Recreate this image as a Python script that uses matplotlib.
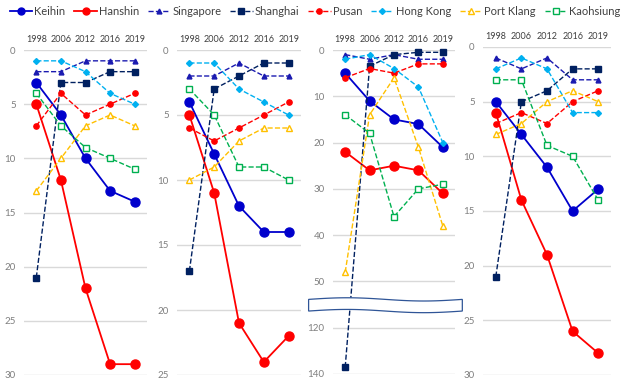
import numpy as np
import matplotlib.pyplot as plt
from matplotlib.lines import Line2D
from matplotlib.patches import Polygon

plt.rcParams['font.family'] = ['Lato', 'DejaVu Sans']

years = ["1998", "2006", "2012", "2016", "2019"]
ports = ["Keihin", "Hanshin", "Singapore", "Shanghai", "Pusan", "Hong Kong", "Port Klang", "Kaohsiung"]

# rank data for each of the four panels
p1 = {
    "Keihin": [3, 6, 10, 13, 14],
    "Hanshin": [5, 12, 22, 29, 29],
    "Singapore": [2, 2, 1, 1, 1],
    "Shanghai": [21, 3, 3, 2, 2],
    "Pusan": [7, 4, 6, 5, 4],
    "Hong Kong": [1, 1, 2, 4, 5],
    "Port Klang": [13, 10, 7, 6, 7],
    "Kaohsiung": [4, 7, 9, 10, 11],
}
p2 = {
    "Keihin": [4, 8, 12, 14, 14],
    "Hanshin": [5, 11, 21, 24, 22],
    "Singapore": [2, 2, 1, 2, 2],
    "Shanghai": [17, 3, 2, 1, 1],
    "Pusan": [6, 7, 6, 5, 4],
    "Hong Kong": [1, 1, 3, 4, 5],
    "Port Klang": [10, 9, 7, 6, 6],
    "Kaohsiung": [3, 5, 9, 9, 10],
}
p3 = {
    "Keihin": [5, 11, 15, 16, 21],
    "Hanshin": [22, 26, 25, 26, 31],
    "Singapore": [1, 2, 1, 2, 2],
    "Shanghai": [137, 3.5, 1, 0.5, 0.5],
    "Pusan": [6, 4, 5, 3, 3],
    "Hong Kong": [2, 1, 4, 8, 20],
    "Port Klang": [48, 14, 6, 21, 38],
    "Kaohsiung": [14, 18, 36, 30, 29],
}
p4 = {
    "Keihin": [5, 8, 11, 15, 13],
    "Hanshin": [6, 14, 19, 26, 28],
    "Singapore": [1, 2, 1, 3, 3],
    "Shanghai": [21, 5, 4, 2, 2],
    "Pusan": [7, 6, 7, 5, 4],
    "Hong Kong": [2, 1, 2, 6, 6],
    "Port Klang": [8, 7, 5, 4, 5],
    "Kaohsiung": [3, 3, 9, 10, 14],
}

styles = {
    "Keihin": dict(color="#0000CC", ls="-", marker="o", ms=6.5, mfc="#0000CC", lw=1.3),
    "Hanshin": dict(color="#FF0000", ls="-", marker="o", ms=6.5, mfc="#FF0000", lw=1.3),
    "Singapore": dict(color="#1A1AB0", ls="--", marker="^", ms=3.5, mfc="#1A1AB0", lw=1.0),
    "Shanghai": dict(color="#002060", ls="--", marker="s", ms=4.5, mfc="#002060", lw=1.0),
    "Pusan": dict(color="#FF0000", ls="--", marker="o", ms=3.8, mfc="#FF0000", lw=1.0),
    "Hong Kong": dict(color="#00B0F0", ls="--", marker="D", ms=3, mfc="#00B0F0", lw=1.0),
    "Port Klang": dict(color="#FFC000", ls="--", marker="^", ms=4.5, mfc="white", lw=1.0),
    "Kaohsiung": dict(color="#00B050", ls="--", marker="s", ms=4, mfc="white", lw=1.0),
}


def fwd(v):
    v = np.asarray(v, dtype=float)
    return np.where(v <= 50, v, np.where(v < 120, 50 + (v - 50) / 7.0, 60 + (v - 120) / 2.0))


def inv(d):
    d = np.asarray(d, dtype=float)
    return np.where(d <= 50, d, np.where(d < 60, 50 + (d - 50) * 7.0, 120 + (d - 60) * 2.0))


fig = plt.figure(figsize=(6.34, 3.83), dpi=100)

panels = [
    (p1, [24, 50, 123, 325], 30, range(0, 31, 5)),
    (p2, [177, 50, 124, 325], 25, range(0, 26, 5)),
    (p3, [333, 50, 122, 324], 140, [0, 10, 20, 30, 40, 50, 120, 140]),
    (p4, [483, 47, 128, 328], 30, range(0, 31, 5)),
]

x = np.arange(len(years))
for data, (l, t, w, h), ymax, ticks in panels:
    ax = fig.add_axes([l / 634, 1 - (t + h) / 383, w / 634, h / 383])
    if ymax == 140:
        ax.set_yscale('function', functions=(fwd, inv))
    for name in ports:
        ax.plot(x, data[name], mec=styles[name]["color"], clip_on=False, zorder=3, **styles[name])
    ax.set_xlim(-0.5, 4.5)
    ax.set_ylim(ymax, 0)
    ax.set_yticks(list(ticks))
    ax.set_yticklabels([str(v) for v in ticks])
    ax.set_xticks(x)
    ax.set_xticklabels(years)
    ax.xaxis.tick_top()
    ax.tick_params(axis='x', length=0, pad=4, labelsize=6.5, labelcolor="#404040")
    ax.tick_params(axis='y', length=0, pad=6, labelsize=7, labelcolor="#7F7F7F")
    ax.grid(axis='y', color="#D9D9D9", lw=1.0)
    ax.set_axisbelow(True)
    for s in ax.spines.values():
        s.set_visible(False)
    if ymax == 140:
        # axis break band
        yb = 1 - 55 / 70.0
        xs = np.linspace(-0.2, 1.06, 60)
        top = yb + 0.016 + 0.005 * np.sin((xs + 0.2) * 2 * np.pi / 1.26)
        bot = yb - 0.020 + 0.005 * np.sin((xs + 0.2) * 2 * np.pi / 1.26)
        pts = np.column_stack([np.r_[xs, xs[::-1]], np.r_[top, bot[::-1]]])
        ax.add_patch(Polygon(pts, closed=True, transform=ax.transAxes, fc="white",
                             ec="#2F5597", lw=0.9, clip_on=False, zorder=5))

handles = [Line2D([], [], mec=styles[n]["color"], **styles[n]) for n in ports]
for hd in handles:
    hd.set_markersize(min(hd.get_markersize(), 5))
fig.legend(handles, ports, loc="upper left", bbox_to_anchor=(0.0, 1.01), ncol=8, frameon=False,
           fontsize=8, handlelength=2.0, handletextpad=0.2, columnspacing=0.8, labelcolor="#404040")

fig.savefig("out.png", dpi=100)
